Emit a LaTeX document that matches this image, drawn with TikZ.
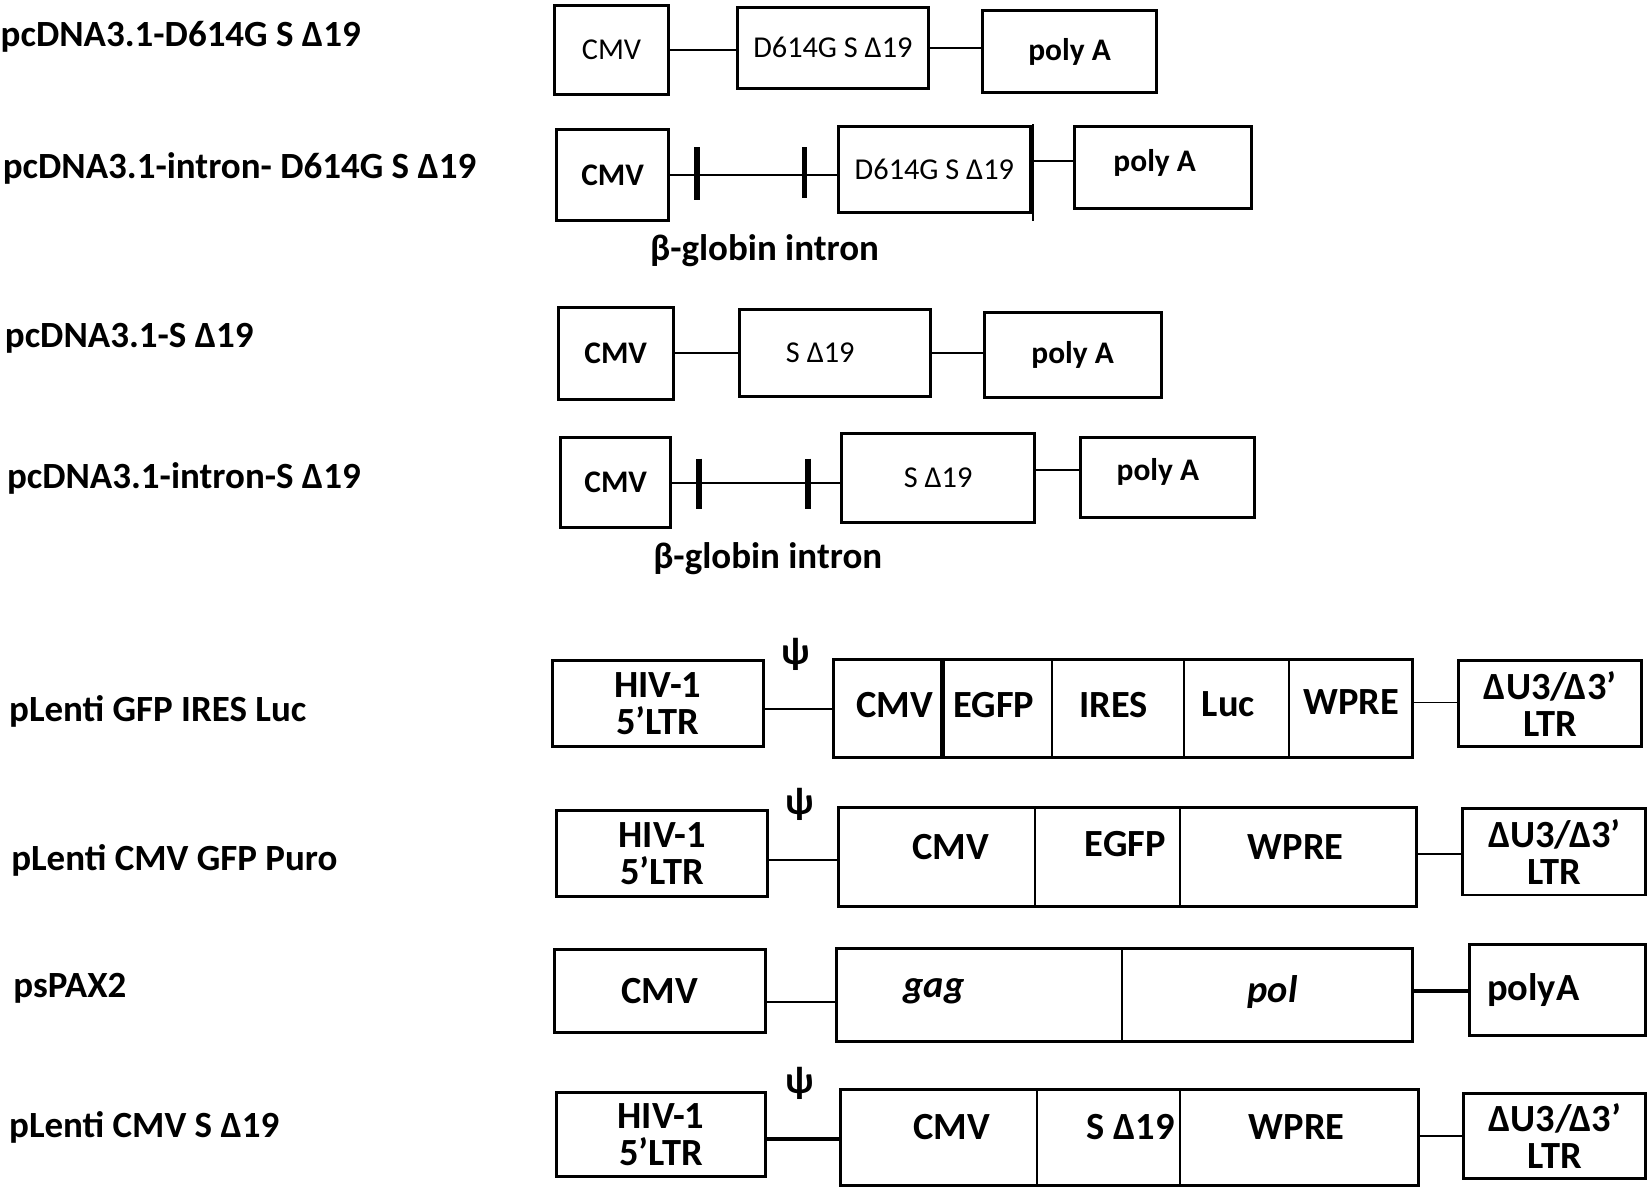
\documentclass[tikz,border=0pt]{standalone}
\usepackage{fontspec}
\setmainfont{Carlito}
\begin{document}
\begin{tikzpicture}[x=0.1mm,y=-0.1mm,
  box/.style={draw,line width=0.8pt,inner sep=0pt},
  lbl/.style={font=\fontsize{10}{12}\selectfont\bfseries,anchor=west,inner sep=0pt},
  sm/.style={font=\fontsize{8.2}{10}\selectfont},
  mid/.style={font=\fontsize{8.5}{10}\selectfont\bfseries},
  glob/.style={font=\fontsize{10}{12}\selectfont\bfseries},
  big/.style={font=\fontsize{10.4}{11}\selectfont\bfseries,align=center},
  link/.style={line width=0.5pt},
  bar/.style={line width=1.6pt}]
\useasboundingbox (0,0) rectangle (1568,1135);

% pcDNA3.1-D614G S delta19
\node[lbl] (t1) at (0,35) {pcDNA3.1-D614G S Δ19};
\node[box,sm,minimum width=10.9mm,minimum height=8.5mm] (cmv1) at (581.5,47.5) {CMV};
\node[box,sm,minimum width=18.2mm,minimum height=7.7mm] (s1) at (792,45.5) {D614G S Δ19};
\node[box,mid,minimum width=16.6mm,minimum height=7.8mm] (pa1) at (1017,49) {poly A};
\draw[link] (cmv1.east) -- (cmv1.east -| s1.west);
\draw[link] (s1.east) -- (s1.east -| pa1.west);

% pcDNA3.1-intron-D614G S delta19
\node[lbl] (t2) at (2,160) {pcDNA3.1-intron- D614G S Δ19};
\node[box,mid,minimum width=10.7mm,minimum height=8.7mm] (cmv2) at (582.5,166.5) {CMV};
\node[box,sm,minimum width=18.3mm,minimum height=8.2mm] (s2) at (888.5,161) {D614G S Δ19};
\node[box,minimum width=16.8mm,minimum height=7.8mm] (pa2) at (1106,159) {};
\node[mid] at (1098,155) {poly A};
\draw[link] (cmv2.east) -- (cmv2.east -| s2.west);
\draw[link] (982,153) -- (pa2.west |- 982,153);
\draw[link] (982,118) -- (982,210);
\draw[bar] (663,140) -- (663,190);
\draw[bar] (765,140) -- (765,188);
\node[glob] (g2) at (727,238) {β-globin intron};

% pcDNA3.1-S delta19
\node[lbl] (t3) at (4,322) {pcDNA3.1-S Δ19};
\node[box,mid,minimum width=10.9mm,minimum height=8.8mm] (cmv3) at (585.5,336) {CMV};
\node[box,minimum width=18.2mm,minimum height=8.3mm] (s3) at (794,335.5) {};
\node[sm] at (780,335) {S Δ19};
\node[box,mid,minimum width=16.8mm,minimum height=8.1mm] (pa3) at (1020,337.5) {poly A};
\draw[link] (cmv3.east) -- (cmv3.east -| s3.west);
\draw[link] (s3.east) -- (s3.east -| pa3.west);

% pcDNA3.1-intron-S delta19
\node[lbl] (t4) at (6,455) {pcDNA3.1-intron-S Δ19};
\node[box,mid,minimum width=10.5mm,minimum height=8.6mm] (cmv4) at (585.5,459) {CMV};
\node[box,sm,minimum width=18.4mm,minimum height=8.5mm] (s4) at (892,454.5) {S Δ19};
\node[box,minimum width=16.6mm,minimum height=7.6mm] (pa4) at (1110,454) {};
\node[mid] at (1101,449) {poly A};
\draw[link] (cmv4.east) -- (cmv4.east -| s4.west);
\draw[link] (s4.east |- 0,447) -- (pa4.west |- 0,447);
\draw[bar] (665,436) -- (665,484);
\draw[bar] (768,436) -- (768,484);
\node[glob] (g4) at (730,531) {β-globin intron};

% pLenti GFP IRES Luc
\node[lbl] (t5) at (8,676) {pLenti GFP IRES Luc};
\node[big] (psi5) at (757,622) {ψ};
\node[box,big,minimum width=20.1mm,minimum height=8.2mm] (hiv5) at (625.5,669) {HIV-1\\[-1pt]5’LTR};
\node[box,minimum width=55mm,minimum height=9.3mm] (body5) at (1068,673.5) {};
\node[box,big,minimum width=17.4mm,minimum height=8.2mm] (ltr5) at (1474,669) {ΔU3/Δ3’\\[-1pt]LTR};
\draw[link] (hiv5.east |- 0,674) -- (body5.west |- 0,674);
\draw[link] (body5.east |- 0,668) -- (ltr5.west |- 0,668);
\draw[line width=1.2pt] (896,627) -- (896,720);
\foreach \x in {1000,1126,1226} \draw[link] (\x,627) -- (\x,720);
\node[big] (c5) at (851,670) {CMV};
\node[big] (e5) at (945,670) {EGFP};
\node[big] (i5) at (1059,670) {IRES};
\node[big] (l5) at (1168,670) {Luc};
\node[big] (w5) at (1285,668) {WPRE};

% pLenti CMV GFP Puro
\node[lbl] (t6) at (10,818) {pLenti CMV GFP Puro};
\node[big] (psi6) at (760,765) {ψ};
\node[box,big,minimum width=20.1mm,minimum height=8.1mm] (hiv6) at (629.5,811.5) {HIV-1\\[-1pt]5’LTR};
\node[box,minimum width=55mm,minimum height=9.4mm] (body6) at (1072,815) {};
\node[box,big,minimum width=17.4mm,minimum height=8.2mm] (ltr6) at (1478,810) {ΔU3/Δ3’\\[-1pt]LTR};
\draw[link] (hiv6.east |- 0,818) -- (body6.west |- 0,818);
\draw[link] (body6.east |- 0,812) -- (ltr6.west |- 0,812);
\foreach \x in {984,1122} \draw[link] (\x,768) -- (\x,862);
\node[big] (c6) at (904,805) {CMV};
\node[big] (e6) at (1070,803) {EGFP};
\node[big] (w6) at (1232,805) {WPRE};

% psPAX2
\node[lbl] (t7) at (12,940) {psPAX2};
\node[box,big,minimum width=20.1mm,minimum height=7.9mm] (cmv7) at (627.5,942.5) {CMV};
\node[box,minimum width=54.8mm,minimum height=8.8mm] (body7) at (1069,946) {};
\node[box,minimum width=16.8mm,minimum height=8.7mm] (pa7) at (1481,941.5) {};
\node[big] at (1458,941) {polyA};
\draw[link] (cmv7.east |- 0,953) -- (body7.west |- 0,953);
\draw[line width=1pt] (body7.east |- 0,942) -- (pa7.west |- 0,942);
\draw[link] (1067,902) -- (1067,990);
\node[big,font=\fontsize{10.4}{11}\selectfont\bfseries\itshape] (g7) at (888,943) {gag};
\node[big,font=\fontsize{10.4}{11}\selectfont\bfseries\itshape] (p7) at (1210,943) {pol};

% pLenti CMV S delta19
\node[lbl] (t8) at (8,1072) {pLenti CMV S Δ19};
\node[big] (psi8) at (760,1030) {ψ};
\node[box,big,minimum width=19.9mm,minimum height=8mm] (hiv8) at (628.5,1079) {HIV-1\\[-1pt]5’LTR};
\node[box,minimum width=55mm,minimum height=9.1mm] (body8) at (1074,1081.5) {};
\node[box,big,minimum width=17.3mm,minimum height=8.1mm] (ltr8) at (1478.5,1080.5) {ΔU3/Δ3’\\[-1pt]LTR};
\draw[line width=1pt] (hiv8.east |- 0,1083) -- (body8.west |- 0,1083);
\draw[link] (body8.east |- 0,1080) -- (ltr8.west |- 0,1080);
\foreach \x in {986,1122} \draw[link] (\x,1036) -- (\x,1127);
\node[big] (c8) at (905,1072) {CMV};
\node[big] (s8) at (1075,1072) {S Δ19};
\node[big] (w8) at (1233,1072) {WPRE};
\end{tikzpicture}
\end{document}
